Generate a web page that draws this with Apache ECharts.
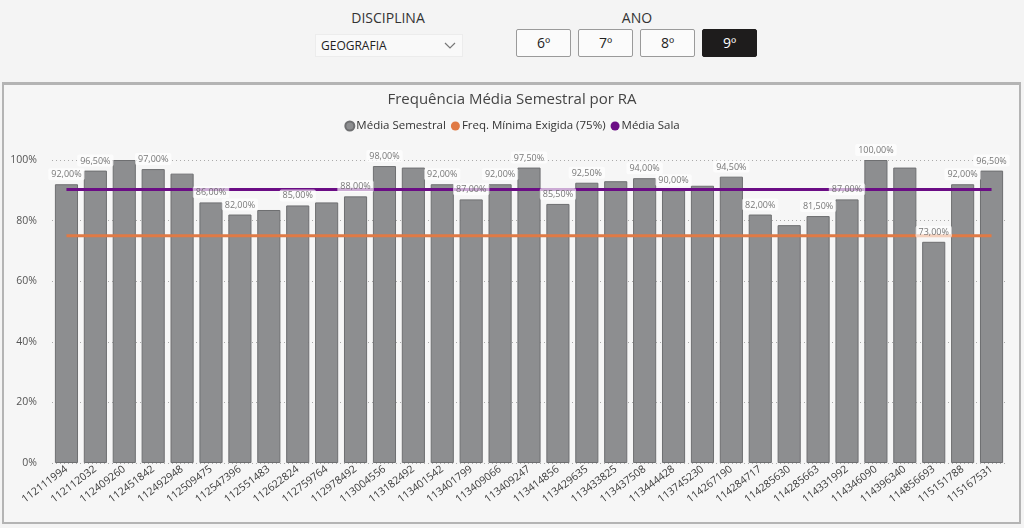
<!DOCTYPE html>
<html>
<head>
<meta charset="utf-8">
<script src="https://cdn.jsdelivr.net/npm/echarts@6/dist/echarts.min.js"></script>
<style>
  html, body { margin: 0; padding: 0; background: #f4f4f4; font-family: "Open Sans", "Noto Sans", sans-serif; }
  #wrap { position: relative; width: 1024px; height: 528px; overflow: hidden; }
  .lbl { position: absolute; top: 8px; font-size: 14px; color: #333; text-align: center; }
  .drop { position: absolute; left: 315px; top: 34px; width: 148px; height: 23px; background: #f9f9f9;
          border: 1px solid #ececec; box-sizing: border-box; font-size: 12px; color: #222; line-height: 22px; padding-left: 5px; }
  .drop svg { position: absolute; right: 6px; top: 7px; }
  .btn { position: absolute; top: 29px; width: 55px; height: 28px; box-sizing: border-box; border: 1px solid #9a9a9a;
         border-radius: 2px; background: #fbfbfb; font-size: 14px; color: #222; text-align: center; line-height: 26px; }
  .btn.on { background: #1e1c1c; color: #fff; border-color: #1e1c1c; }
  #panel { position: absolute; left: 2px; top: 82px; width: 1019px; height: 442px; box-sizing: border-box;
           border: 2px solid #b4b4b4; border-top-width: 3px; background: #f6f6f6; }
  #chart { position: absolute; left: 0; top: 0; width: 1024px; height: 528px; }
</style>
</head>
<body>
<div id="wrap">
  <div class="lbl" style="left:338px;width:100px;">DISCIPLINA</div>
  <div class="drop">GEOGRAFIA
    <svg width="12" height="8" viewBox="0 0 12 8"><polyline points="1,1 6,6 11,1" fill="none" stroke="#777" stroke-width="1.2"/></svg>
  </div>
  <div class="lbl" style="left:597px;width:80px;">ANO</div>
  <div class="btn" style="left:516px;">6º</div>
  <div class="btn" style="left:578px;">7º</div>
  <div class="btn" style="left:640px;">8º</div>
  <div class="btn on" style="left:702px;">9º</div>
  <div id="panel"></div>
  <div id="chart"></div>
</div>
<script>
// RAs dos alunos
const ras = ['112111994','112112032','112409260','112451842','112492948','112509475','112547396','112551483',
  '112622824','112759764','112978492','113004556','113182492','113401542','113401799','113409066','113409247',
  '113414856','113429635','113433825','113437508','113444428','113745230','114267190','114284717','114285630',
  '114285663','114331992','114346090','114396340','114856693','115151788','115167531'];
// frequência média semestral (%)
const mediaSemestral = [92, 96.5, 100, 97, 95.5, 86, 82, 83.5, 85, 86, 88, 98, 97.5, 92, 87, 92, 97.5,
  85.5, 92.5, 93, 94, 90, 91.5, 94.5, 82, 78.5, 81.5, 87, 100, 97.5, 73, 92, 96.5];
// rótulos que o Power BI escondeu
const semRotulo = [2, 4, 7, 9, 12, 19, 22, 25, 29];
const freqMinima = 75;
const mediaSala = 90.3;
const yTicks = [0, 20, 40, 60, 80, 100];

const chart = echarts.init(document.getElementById('chart'), null, { renderer: 'canvas' });

const fmt = v => v.toFixed(2).replace('.', ',') + '%';
const labelData = mediaSemestral.map((v, i) => semRotulo.includes(i) ? '-' : v);

const option = {
  backgroundColor: 'transparent',
  animation: false,
  title: {
    text: 'Frequência Média Semestral por RA',
    left: 'center',
    top: 87,
    textStyle: { fontSize: 15, fontWeight: 'normal', color: '#444', fontFamily: 'Open Sans' }
  },
  legend: {
    top: 115,
    left: 'center',
    itemWidth: 9,
    itemHeight: 9,
    itemGap: 5,
    icon: 'circle',
    textStyle: { fontSize: 11.5, color: '#333', fontFamily: 'Open Sans', padding: [0, 0, 0, -3] },
    data: ['Média Semestral', 'Freq. Mínima Exigida (75%)', 'Média Sala']
  },
  grid: { left: 52, right: 18, top: 160, bottom: 65 },
  xAxis: {
    type: 'category',
    data: ras,
    axisLine: { show: false },
    axisTick: { show: false },
    axisLabel: { rotate: 37, fontSize: 10.5, color: '#3a3a3a', margin: 5, interval: 0, fontFamily: 'Open Sans' }
  },
  yAxis: {
    type: 'value',
    min: yTicks[0],
    max: yTicks[yTicks.length - 1],
    interval: 20,
    axisLabel: { formatter: '{value}%', fontSize: 10.5, color: '#555', margin: 15, fontFamily: 'Open Sans' },
    splitLine: { lineStyle: { type: [1, 3], color: '#aaa', width: 1 } }
  },
  series: [
    {
      name: 'Média Semestral',
      type: 'bar',
      data: mediaSemestral,
      barCategoryGap: '20%',
      itemStyle: { color: '#8d8e90', borderColor: '#6e6f71', borderWidth: 1 },
      z: 2
    },
    {
      name: 'Freq. Mínima Exigida (75%)',
      type: 'line',
      data: ras.map(() => freqMinima),
      symbol: 'none',
      lineStyle: { color: '#e07a45', width: 3 },
      itemStyle: { color: '#e07a45' },
      z: 3
    },
    {
      name: 'Média Sala',
      type: 'line',
      data: ras.map(() => mediaSala),
      symbol: 'none',
      lineStyle: { color: '#6b0d85', width: 3 },
      itemStyle: { color: '#6b0d85' },
      z: 3
    },
    {
      name: 'rotulos',
      type: 'scatter',
      data: labelData,
      symbolSize: 0.1,
      itemStyle: { color: 'transparent' },
      silent: true,
      z: 5,
      label: {
        show: true,
        position: 'top',
        distance: 4,
        formatter: p => fmt(p.value),
        fontSize: 9,
        color: '#555',
        fontFamily: 'Open Sans',
        backgroundColor: 'rgba(255,255,255,0.82)',
        padding: [2, 3, 1, 3],
        borderRadius: 2
      }
    }
  ]
};

chart.setOption(option);
</script>
</body>
</html>
